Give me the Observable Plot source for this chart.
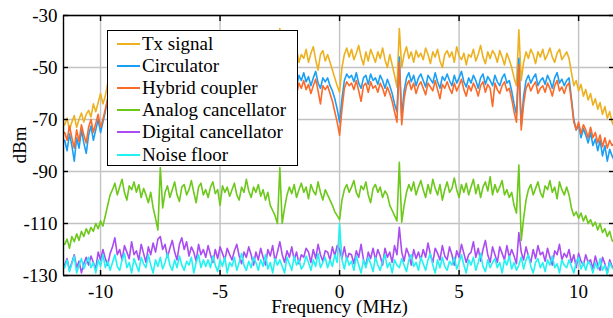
<!DOCTYPE html>
<html><head><meta charset="utf-8">
<script src="https://cdn.jsdelivr.net/npm/d3@7"></script>
<script src="https://cdn.jsdelivr.net/npm/@observablehq/plot@0.6"></script>
<style>
html,body{margin:0;padding:0;background:#fff;overflow:hidden}
#wrap{position:relative;width:613px;height:318px;font-family:"Liberation Serif","Times New Roman","DejaVu Serif",serif;color:#000}
#legend{position:absolute;left:107px;top:30px;width:191px;height:136px;border:1.4px solid #000;background:#fff;box-sizing:border-box;padding-top:1.5px}
.row{height:22.2px;display:flex;align-items:center;font-size:19px;white-space:nowrap}
.sw{width:23px;height:2px;margin-left:9px;margin-right:2px}
#xlab{position:absolute;left:0;width:679px;text-align:center;top:302px;font-size:19px;line-height:10px}
#ylab{position:absolute;left:19px;top:145px;font-size:19px;line-height:19px;transform:translate(-50%,-50%) rotate(-90deg);white-space:nowrap}
</style></head>
<body><div id="wrap"></div>
<script>
// Sampling grid: -11.5 .. 11.5 MHz, step 0.1 MHz (231 samples)
const freqStart = -11.5, freqStep = 0.1, nSamples = 231;
const xTicks = [-10, -5, 0, 5, 10];
const yTicks = [-130, -110, -90, -70, -50, -30];
const seriesNames = ["Tx signal", "Circulator", "Hybrid coupler", "Analog cancellator", "Digital cancellator", "Noise floor"];
const seriesColors = ["#EDB120", "#1A9FF5", "#FA6A2A", "#6CC81A", "#A94CF2", "#22F2F2"];

const txSignal = [
-72,-69.5,-74,-71,-68.5,-73,-70,-67.5,-71,-68,
-66.5,-69,-64,-67,-63.5,-60,-64,-61,-56,-52,
-47,-44.5,-48,-45,-50,-43.5,-46,-48.5,-44,-47,
-45.5,-49,-43,-46.5,-51,-47,-44,-48,-52,-55,
-40,-54,-48,-45,-47.5,-43,-46,-49,-44.5,-46,
-48,-42.5,-45,-50,-46,-44,-47.5,-45,-43,-48.5,
-45,-47,-44,-51,-46.5,-43,-45.5,-48,-44,-46.5,
-43.5,-47,-49.5,-45,-44,-46.5,-42,-48,-45.5,-47,
-44,-48.5,-46,-43,-47,-50,-45,-49,-53,-56,
-35,-55,-49,-45,-47.5,-44,-46,-42.5,-48,-45,
-46.5,-43,-48,-44.5,-42,-47,-51,-45,-43.5,-47.5,
-45,-48,-51,-54,-57,-59.5,-50,-45,-42.5,-46,
-43,-47,-44.5,-41.5,-46,-49,-44,-47.5,-43,-45.5,
-48,-44,-46.5,-42.5,-47,-50,-45,-49,-53,-57.5,
-35,-50,-45,-42,-46.5,-44,-48,-43.5,-46,-44.5,
-47,-42.5,-45,-48.5,-44,-46,-43,-47.5,-50,-45,
-43.5,-46,-44,-48,-42,-45.5,-47,-44.5,-49,-45,
-46,-43,-47.5,-45,-41.5,-46,-48.5,-44,-46.5,-43.5,
-45,-48,-43.5,-46,-49,-44.5,-47,-50,-54,-57,
-35.5,-55,-48,-44,-46.5,-43,-45,-48.5,-44,-46,
-43,-47,-45,-42.5,-46,-48,-44.5,-43,-47,-45.5,
-44,-46.5,-52,-57,-55,-59,-56.5,-61,-58.5,-62.5,
-60,-64.5,-62,-66,-63.5,-68,-65,-69.5,-67,-71,
-73];

const circulator = [
-78,-82,-75.5,-80,-86,-77,-81,-74,-79,-83,
-76,-72.5,-78,-74,-70,-75,-71,-67,-62,-58,
-55,-52.5,-57,-54,-51.5,-56,-59,-53.5,-55,-52,
-54,-57.5,-53,-55.5,-52,-56,-54,-58,-61,-64,
-50,-63,-58,-54.5,-52,-56,-53.5,-55,-58,-52.5,
-55,-53,-57,-54,-51.5,-56.5,-54,-59,-53,-55.5,
-52.5,-56,-54.5,-58,-53,-55,-52,-57,-54,-56.5,
-54,-51.5,-55.5,-57,-53,-56,-54.5,-52,-58,-55,
-53,-56.5,-54,-52,-57,-55,-53.5,-58,-62,-65,
-48,-66,-59,-55,-52.5,-56,-54,-57.5,-53,-55,
-52,-55.5,-53.5,-57,-54,-51.5,-56,-58,-54,-55.5,
-54,-57,-59,-62,-66,-71,-62,-55,-52.5,-54,
-53,-55.5,-52,-56,-58,-54,-53,-56.5,-52.5,-55,
-54,-56.5,-53,-55,-58,-54.5,-57,-60,-64,-67,
-46,-69,-59,-54,-52,-55.5,-53,-57,-54,-52.5,
-55,-57.5,-53,-54.5,-56,-52,-55.5,-58,-53.5,-55,
-52.5,-55,-57,-53,-56,-54,-51.5,-55.5,-57.5,-54,
-56,-53,-55,-58,-54,-52.5,-56.5,-53.5,-55,-57,
-53,-55.5,-57,-54,-52.5,-56,-55,-59,-64,-68,
-46.5,-72,-61,-55,-53,-56,-54,-52.5,-57,-55,
-54,-56.5,-53,-55,-58,-54,-52,-56,-54.5,-57,
-55,-54,-62,-70,-74,-72,-77,-73.5,-76,-79,
-75,-80,-77.5,-82,-78,-84,-80,-86,-81.5,-84,
-86];

const hybridCoupler = [
-75,-78,-72.5,-77,-81,-74,-78.5,-72,-76,-79,
-73,-70,-75,-71.5,-68,-73,-70,-66,-62,-60,
-58,-55.5,-60,-57,-54.5,-59,-62,-56.5,-58,-55,
-57,-60.5,-56,-58.5,-55,-59,-57,-61,-64,-67,
-52,-67,-61,-57.5,-55,-59,-56.5,-58,-61,-55.5,
-58,-56,-60,-57,-54.5,-59.5,-57,-62,-56,-58.5,
-55.5,-59,-57.5,-61,-56,-58,-55,-60,-57,-59.5,
-57,-54.5,-58.5,-60,-56,-59,-57.5,-55,-61,-58,
-56,-59.5,-57,-55,-60,-58,-56.5,-61,-65,-68,
-50,-69,-62,-58,-55.5,-59,-57,-60.5,-56,-58,
-55,-58.5,-56.5,-60,-57,-54.5,-59,-64,-57,-58.5,
-57,-60,-63,-67,-71,-76,-66,-58,-55.5,-57,
-56,-58.5,-55,-59,-63,-57,-56,-59.5,-55.5,-58,
-57,-59.5,-56,-58,-61,-57.5,-60,-63,-67,-71,
-48,-72,-62,-57,-55,-58.5,-56,-60,-57,-55.5,
-58,-60.5,-56,-57.5,-59,-55,-58.5,-62,-56.5,-58,
-55.5,-58,-60,-56,-59,-57,-54.5,-58.5,-61,-57,
-59,-56,-58,-61,-57,-55.5,-59.5,-56.5,-58,-65,
-56,-58.5,-60,-57,-55.5,-59,-58,-62,-67,-71,
-49,-74,-64,-58,-56,-59,-57,-55.5,-60,-58,
-57,-59.5,-56,-58,-61,-57,-55,-59,-57.5,-60,
-57,-56,-63,-71,-74,-71,-75.5,-72,-74,-77,
-73,-77,-75,-79,-76,-80.5,-77,-81,-78,-80,
-79];

const analogCancellator = [
-118,-116,-119.5,-115,-117,-114,-116.5,-113,-115,-112,
-114,-111.5,-113,-110,-112,-109,-111,-107,-103,-99,
-97,-94.5,-99,-96,-93,-98,-101,-95.5,-97,-94,
-98,-95,-100,-96.5,-99,-102,-98,-104,-108,-112.5,
-88.5,-104,-98,-95.5,-100,-97,-94,-99,-101.5,-96,
-95,-99,-97,-93.5,-98,-102,-96,-94.5,-99,-97,
-100,-96,-94,-98.5,-97,-103,-95.5,-98,-96,-99.5,
-97,-94.5,-99,-101,-96,-98,-93,-97.5,-100,-96,
-98,-95,-99.5,-97,-101,-98,-103,-105,-107,-110,
-88.5,-110,-104,-99,-96,-98.5,-95,-100,-97,-94.5,
-98,-96,-100.5,-95,-97.5,-99,-94,-98,-101,-97,
-99,-101,-103,-105.5,-107,-108.5,-101,-97,-95,-98,
-96,-93.5,-98,-100,-95.5,-97,-94,-99,-102,-96.5,
-95,-98,-96,-100,-97.5,-99,-103,-105,-107,-109,
-86.5,-109.5,-103,-98,-95,-97.5,-94,-99,-96,-93.5,
-97,-100,-95,-98.5,-93,-96.5,-99,-95,-101,-97,
-94,-98,-96.5,-92.5,-97,-100,-95,-98,-94.5,-99,
-96,-93,-98.5,-95,-100,-96,-94,-97.5,-92,-99,
-95,-98,-96,-93.5,-99,-97,-100,-98,-103,-106,
-87.5,-116.5,-108,-101,-97,-95,-99,-96.5,-94,-98,
-100,-95.5,-97,-93.5,-98,-96,-100.5,-94,-97,-99,
-96,-99,-104,-107,-105.5,-108,-106,-109,-107,-110,
-108.5,-111,-109.5,-112.5,-110,-113.5,-112,-115,-113,-116.5,
-117.5];

const digitalCancellator = [
-126,-123.5,-128,-125,-122,-127,-124.5,-129,-125.5,-123,
-126,-122.5,-125,-127.5,-121,-124,-120,-123.5,-126,-121.5,
-119,-115.5,-122,-120,-124,-118.5,-121,-123.5,-117,-122,
-120.5,-124,-118,-121.5,-125,-119,-122,-117.5,-121,-116,
-115,-120,-118,-123,-119.5,-116.5,-121,-124,-118,-115.5,
-120,-117,-122.5,-119,-121,-124.5,-118,-122,-120,-123,
-118.5,-122,-125,-120,-123.5,-119,-121.5,-124,-119.5,-122,
-124,-120.5,-118,-122.5,-125.5,-121,-123,-119,-122,-126,
-121,-124,-119.5,-123,-126,-120,-122.5,-118.5,-124.5,-121,
-117,-122,-125,-120.5,-123,-119,-124,-121,-125.5,-122,
-123,-119.5,-121,-125,-120,-123.5,-118,-122,-124.5,-120.5,
-121,-124,-119,-122.5,-118.5,-120,-123.5,-119,-124,-121.5,
-122,-125.5,-120.5,-123,-118,-124,-126.5,-121,-123.5,-119.5,
-124,-120,-122.5,-126,-119.5,-123,-121,-125,-118.5,-122,
-111.5,-121,-124.5,-119.5,-122,-126,-120,-123.5,-121,-124,
-120,-123,-117.5,-122,-125,-119.5,-121.5,-124,-118.5,-122.5,
-124,-119,-122,-126,-120.5,-123,-118,-121.5,-125,-122,
-121,-117,-123,-119.5,-124.5,-120,-116.5,-122,-125,-119,
-122,-125,-119,-121.5,-124,-118.5,-123,-120,-122.5,-125.5,
-113.5,-121,-124,-119,-122.5,-125,-120,-123.5,-118.5,-122,
-121,-124.5,-119.5,-123,-126,-120.5,-122,-118,-124,-121.5,
-123,-120,-125,-122,-127,-121.5,-124.5,-126,-122,-125,
-124,-127.5,-122.5,-126,-128,-123,-125.5,-129,-124,-126.5,
-127];

const noiseFloor = [
-127,-124,-128.5,-125.5,-122.5,-129,-126,-123.5,-127.5,-125,
-123,-127,-125,-129,-124,-126.5,-122,-127,-124.5,-128,
-125,-122,-126.5,-128,-124,-121.5,-127,-125,-129,-123.5,
-126,-128.5,-123,-125.5,-127,-122,-126,-129,-124,-126.5,
-123,-127.5,-125,-121.5,-126,-128,-124,-127,-122.5,-126,
-128,-124.5,-126,-123,-129,-125,-122,-127,-124,-126.5,
-124,-127,-122.5,-126,-128.5,-124,-126.5,-123,-129,-125,
-126.5,-123,-128,-125,-121.5,-126,-128,-124.5,-127,-123,
-125,-128,-124,-126.5,-122,-127.5,-125,-129,-123.5,-126,
-124,-126.5,-129,-123,-125.5,-128,-122.5,-126,-124,-127.5,
-126,-122.5,-125,-128,-124,-126.5,-121.5,-127,-125,-123,
-127,-124,-126.5,-122,-125,-110,-124,-127.5,-123,-126,
-124.5,-128,-122.5,-126,-129,-124,-127,-123,-125.5,-128.5,
-123,-126,-128,-124.5,-122,-127,-125,-129,-124,-126,
-127,-123.5,-126,-128.5,-124,-122,-126.5,-125,-128,-123,
-125.5,-128,-124,-121.5,-126,-129,-124,-127,-123,-126.5,
-128,-124.5,-126,-123,-127.5,-125,-122,-126,-129,-124,
-126,-123,-128,-125,-121.5,-126.5,-128.5,-124,-127,-125,
-123.5,-127,-125,-129,-124,-126,-122.5,-127.5,-125,-128,
-126,-123,-127.5,-124,-122,-126.5,-129,-125,-123.5,-127,
-125,-128.5,-124,-126,-122.5,-127,-125.5,-129,-124,-126,
-127,-124,-126.5,-129,-125,-123,-127.5,-125,-128,-124.5,
-126,-129,-125,-127.5,-123.5,-128,-126,-129.5,-125,-127,
-128];

const seriesValues = [txSignal, circulator, hybridCoupler, analogCancellator, digitalCancellator, noiseFloor];
const freq = d3.range(nSamples).map(i => +(freqStart + i * freqStep).toFixed(3));
const xDomain = [-11.55, 11.46];

const rows = [];
seriesNames.forEach((name, s) => {
  seriesValues[s].forEach((v, i) => rows.push({series: name, freq: freq[i], dbm: v}));
});

const fmt = d => String(d);
const chart = Plot.plot({
  width: 613, height: 318,
  marginLeft: 63, marginTop: 15, marginBottom: 43, marginRight: 0,
  x: {domain: xDomain, label: null},
  y: {domain: [yTicks[0], yTicks[yTicks.length - 1]], label: null},
  color: {domain: seriesNames, range: seriesColors},
  style: {fontFamily: '"Liberation Serif", "Times New Roman", serif', fontSize: "19px", background: "#fff", color: "#000"},
  marks: [
    Plot.gridX(xTicks, {stroke: "#c2c2c2", strokeOpacity: 1, strokeWidth: 1.4}),
    Plot.gridY(yTicks, {stroke: "#c2c2c2", strokeOpacity: 1, strokeWidth: 1.4}),
    ...seriesNames.map(name => Plot.line(rows.filter(r => r.series === name), {
      x: "freq", y: "dbm", stroke: "series", strokeWidth: 1.6, clip: true
    })),
    Plot.ruleY([yTicks[0], yTicks[yTicks.length - 1]], {stroke: "#000", strokeWidth: 1.4}),
    Plot.ruleX([xDomain[0]], {stroke: "#000", strokeWidth: 1.4}),
    Plot.axisX(xTicks, {anchor: "bottom", tickSize: 0, tickPadding: 9, tickFormat: fmt, label: null}),
    Plot.axisY(yTicks, {anchor: "left", tickSize: 0, tickPadding: 6, tickFormat: fmt, label: null}),
    Plot.axisX(xTicks, {anchor: "bottom", tickSize: 5, dy: -5, tickFormat: () => "", label: null, strokeWidth: 1.4}),
    Plot.axisX(xTicks, {anchor: "top", tickSize: 5, dy: 5, tickFormat: () => "", label: null, strokeWidth: 1.4}),
    Plot.axisY(yTicks, {anchor: "left", tickSize: 5, dx: 5, tickFormat: () => "", label: null, strokeWidth: 1.4}),
    Plot.axisY(yTicks, {anchor: "right", tickSize: 5, dx: -5, tickFormat: () => "", label: null, strokeWidth: 1.4})
  ]
});

const wrap = document.getElementById("wrap");
wrap.appendChild(chart);
const leg = document.createElement("div");
leg.id = "legend";
seriesNames.forEach((name, s) => {
  const r = document.createElement("div");
  r.className = "row";
  const sw = document.createElement("span");
  sw.className = "sw";
  sw.style.background = seriesColors[s];
  r.appendChild(sw);
  r.appendChild(document.createTextNode(name));
  leg.appendChild(r);
});
wrap.appendChild(leg);
const xl = document.createElement("div"); xl.id = "xlab"; xl.textContent = "Frequency (MHz)"; wrap.appendChild(xl);
const yl = document.createElement("div"); yl.id = "ylab"; yl.textContent = "dBm"; wrap.appendChild(yl);
</script>
</body></html>
